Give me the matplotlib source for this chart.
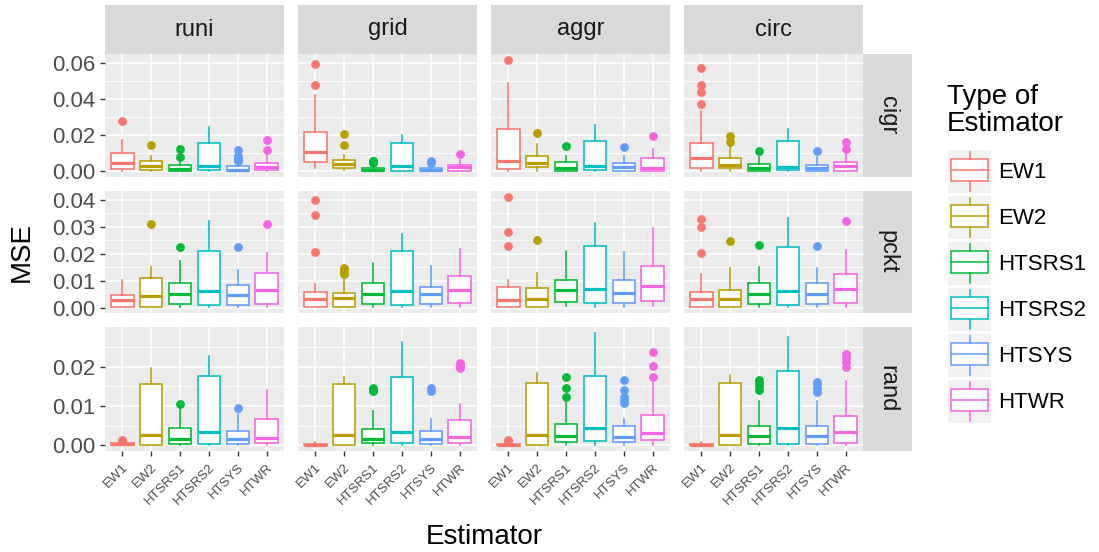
import numpy as np
import matplotlib
matplotlib.use("Agg")
import matplotlib.pyplot as plt
from matplotlib.patches import Rectangle

plt.rcParams['font.family'] = ['Liberation Sans', 'DejaVu Sans']

rows = ["cigr", "pckt", "rand"]
cols = ["runi", "grid", "aggr", "circ"]
estimators = ["EW1", "EW2", "HTSRS1", "HTSRS2", "HTSYS", "HTWR"]
colors = ["#F8766D", "#B79F00", "#00BA38", "#00BFC4", "#619CFF", "#F564E3"]

# box summaries, indexed [row][col][estimator]
whis_lo = [
    [[0.0004, 0.0005, 0.0000, 0.0002, 0.0000, 0.0002],
     [0.0019, 0.0009, 0.0000, 0.0002, 0.0000, 0.0001],
     [0.0004, 0.0005, 0.0001, 0.0002, 0.0001, 0.0001],
     [0.0004, 0.0005, 0.0001, 0.0002, 0.0001, 0.0001]],
    [[0.0001, 0.0003, 0.0004, 0.0004, 0.0004, 0.0004],
     [0.0003, 0.0001, 0.0002, 0.0002, 0.0001, 0.0002],
     [0.0002, 0.0002, 0.0006, 0.0004, 0.0002, 0.0006],
     [0.0002, 0.0002, 0.0004, 0.0004, 0.0004, 0.0004]],
    [[0.0000, 0.0001, 0.0001, 0.0001, 0.0001, 0.0001],
     [0.0000, 0.0001, 0.0001, 0.0001, 0.0000, 0.0001],
     [0.0000, 0.0001, 0.0002, 0.0001, 0.0001, 0.0002],
     [0.0000, 0.0001, 0.0001, 0.0001, 0.0001, 0.0001]],
]
q1 = [
    [[0.0013, 0.0009, 0.0002, 0.0006, 0.0001, 0.0006],
     [0.0052, 0.0017, 0.0000, 0.0004, 0.0000, 0.0002],
     [0.0013, 0.0024, 0.0004, 0.0006, 0.0004, 0.0004],
     [0.0019, 0.0017, 0.0004, 0.0006, 0.0002, 0.0004]],
    [[0.0004, 0.0004, 0.0012, 0.0011, 0.0011, 0.0015],
     [0.0004, 0.0004, 0.0012, 0.0010, 0.0015, 0.0017],
     [0.0004, 0.0004, 0.0020, 0.0016, 0.0018, 0.0025],
     [0.0004, 0.0004, 0.0015, 0.0011, 0.0015, 0.0018]],
    [[0.0001, 0.0002, 0.0004, 0.0004, 0.0004, 0.0005],
     [0.0000, 0.0002, 0.0005, 0.0007, 0.0004, 0.0007],
     [0.0000, 0.0002, 0.0009, 0.0010, 0.0008, 0.0014],
     [0.0000, 0.0002, 0.0003, 0.0003, 0.0003, 0.0006]],
]
med = [
    [[0.0046, 0.0031, 0.0013, 0.0028, 0.0009, 0.0026],
     [0.0106, 0.0040, 0.0008, 0.0028, 0.0007, 0.0022],
     [0.0056, 0.0046, 0.0019, 0.0028, 0.0024, 0.0020],
     [0.0076, 0.0037, 0.0017, 0.0024, 0.0017, 0.0028]],
    [[0.0027, 0.0043, 0.0052, 0.0062, 0.0046, 0.0064],
     [0.0031, 0.0036, 0.0052, 0.0063, 0.0049, 0.0066],
     [0.0030, 0.0033, 0.0064, 0.0070, 0.0055, 0.0079],
     [0.0031, 0.0034, 0.0049, 0.0062, 0.0049, 0.0068]],
    [[0.0003, 0.0027, 0.0015, 0.0033, 0.0015, 0.0020],
     [0.0002, 0.0027, 0.0016, 0.0033, 0.0017, 0.0021],
     [0.0002, 0.0027, 0.0023, 0.0043, 0.0021, 0.0032],
     [0.0002, 0.0027, 0.0025, 0.0043, 0.0025, 0.0034]],
]
q3 = [
    [[0.0102, 0.0056, 0.0033, 0.0159, 0.0028, 0.0044],
     [0.0217, 0.0063, 0.0019, 0.0156, 0.0017, 0.0037],
     [0.0235, 0.0087, 0.0050, 0.0167, 0.0046, 0.0072],
     [0.0156, 0.0072, 0.0041, 0.0169, 0.0037, 0.0054]],
    [[0.0048, 0.0111, 0.0092, 0.0210, 0.0085, 0.0128],
     [0.0058, 0.0055, 0.0091, 0.0210, 0.0076, 0.0118],
     [0.0075, 0.0074, 0.0103, 0.0230, 0.0102, 0.0153],
     [0.0058, 0.0064, 0.0092, 0.0223, 0.0091, 0.0126]],
    [[0.0005, 0.0157, 0.0043, 0.0177, 0.0037, 0.0066],
     [0.0004, 0.0157, 0.0042, 0.0174, 0.0037, 0.0065],
     [0.0004, 0.0160, 0.0054, 0.0177, 0.0049, 0.0077],
     [0.0004, 0.0159, 0.0049, 0.0190, 0.0049, 0.0075]],
]
whis_hi = [
    [[0.0176, 0.0083, 0.0056, 0.0246, 0.0043, 0.0089],
     [0.0420, 0.0091, 0.0028, 0.0200, 0.0030, 0.0065],
     [0.0490, 0.0154, 0.0083, 0.0254, 0.0083, 0.0126],
     [0.0333, 0.0139, 0.0080, 0.0237, 0.0080, 0.0107]],
    [[0.0101, 0.0150, 0.0172, 0.0322, 0.0140, 0.0203],
     [0.0086, 0.0116, 0.0166, 0.0271, 0.0153, 0.0218],
     [0.0103, 0.0129, 0.0209, 0.0313, 0.0207, 0.0293],
     [0.0123, 0.0148, 0.0150, 0.0330, 0.0148, 0.0212]],
    [[0.0009, 0.0196, 0.0094, 0.0227, 0.0081, 0.0140],
     [0.0008, 0.0173, 0.0088, 0.0262, 0.0067, 0.0106],
     [0.0007, 0.0183, 0.0111, 0.0287, 0.0068, 0.0160],
     [0.0008, 0.0178, 0.0113, 0.0277, 0.0112, 0.0164]],
]
outliers = [
    [[[0.0281], [0.0146], [0.0080, 0.0122], [],
      [0.0056, 0.0065, 0.0072, 0.0083, 0.0119], [0.0120, 0.0172]],
     [[0.0476, 0.0596], [0.0148, 0.0204], [0.0046, 0.0050, 0.0055, 0.0060], [],
      [0.0046, 0.0052, 0.0056], [0.0096]],
     [[0.0618], [0.0213], [0.0139], [], [0.0137], [0.0196]],
     [[0.0370, 0.0441, 0.0478, 0.0569], [0.0161, 0.0194], [0.0113], [],
      [0.0111], [0.0122, 0.0165]]],
    [[[], [0.0310], [0.0225], [], [0.0225], [0.0311]],
     [[0.0206, 0.0342, 0.0400], [0.0126, 0.0133, 0.0140, 0.0148], [], [], [], []],
     [[0.0228, 0.0280, 0.0411], [0.0249], [], [], [], []],
     [[0.0203, 0.0298, 0.0327], [0.0245], [0.0233], [], [0.0230], [0.0320]]],
    [[[0.0011, 0.0014], [], [0.0106], [], [0.0094], []],
     [[], [], [0.0138, 0.0142, 0.0146], [], [0.0138, 0.0142, 0.0145],
      [0.0196, 0.0200, 0.0205, 0.0210]],
     [[0.0010, 0.0013], [], [0.0123, 0.0146, 0.0173], [],
      [0.0108, 0.0115, 0.0123, 0.0140, 0.0166], [0.0174, 0.0203, 0.0237]],
     [[], [], [0.0140, 0.0150, 0.0160, 0.0166], [],
      [0.0136, 0.0145, 0.0155, 0.0162], [0.0200, 0.0213, 0.0222, 0.0233]]],
]
y_breaks = [[0.0, 0.02, 0.04, 0.06],
            [0.0, 0.01, 0.02, 0.03, 0.04],
            [0.0, 0.01, 0.02]]

W, H = 1099, 552
fig = plt.figure(figsize=(W / 100, H / 100), dpi=100)


def px(x0, y0, x1, y1):
    return [x0 / W, 1 - y1 / H, (x1 - x0) / W, (y1 - y0) / H]


col_x = [(105, 284), (298, 477), (491, 670), (684, 863)]
row_y = [(54, 177), (191, 313), (327, 451)]
tick_col = "#4D4D4D"

for r in range(len(rows)):
    # shared y range per row, padded 5% like ggplot
    vals = []
    for c in range(len(cols)):
        for e in range(len(estimators)):
            vals += [whis_lo[r][c][e], whis_hi[r][c][e]] + outliers[r][c][e]
    lo, hi = min(vals), max(vals)
    pad = (hi - lo) * 0.05
    ylim = (lo - pad, hi + pad)
    step = y_breaks[r][1] - y_breaks[r][0]
    minor = np.arange(y_breaks[r][0] - step / 2, ylim[1], step)

    for c in range(len(cols)):
        ax = fig.add_axes(px(col_x[c][0], row_y[r][0], col_x[c][1], row_y[r][1]))
        ax.set_facecolor("#EBEBEB")
        for s in ax.spines.values():
            s.set_visible(False)
        ax.set_axisbelow(True)
        for m in minor:
            if ylim[0] < m < ylim[1]:
                ax.axhline(m, color="white", lw=0.55, zorder=0)
        for b in y_breaks[r]:
            ax.axhline(b, color="white", lw=1.1, zorder=0)
        for i in range(len(estimators)):
            ax.axvline(i + 1, color="white", lw=1.1, zorder=0)

        for e, name in enumerate(estimators):
            st = dict(whislo=whis_lo[r][c][e], q1=q1[r][c][e], med=med[r][c][e],
                      q3=q3[r][c][e], whishi=whis_hi[r][c][e],
                      fliers=outliers[r][c][e], label=name)
            col = colors[e]
            ax.bxp([st], positions=[e + 1], widths=0.78, patch_artist=True,
                   showcaps=False,
                   boxprops=dict(facecolor="white", edgecolor=col, lw=1.15),
                   medianprops=dict(color=col, lw=2.3, solid_capstyle="butt"),
                   whiskerprops=dict(color=col, lw=1.15),
                   flierprops=dict(marker="o", markerfacecolor=col,
                                   markeredgecolor=col, markersize=5.3))

        ax.set_xlim(0.4, 6.6)
        ax.set_ylim(*ylim)
        ax.set_yticks(y_breaks[r])
        ax.set_xticks(range(1, len(estimators) + 1))
        ax.tick_params(colors="#333333", length=3.5, width=1.0,
                       labelcolor=tick_col)
        if c == 0:
            ax.set_yticklabels([f"{b:.2f}" for b in y_breaks[r]], fontsize=16)
        else:
            ax.tick_params(axis="y", length=0, labelleft=False)
        if r == len(rows) - 1:
            ax.set_xticklabels(estimators, rotation=45, ha="right", va="top",
                               rotation_mode="anchor", fontsize=9.5)
            ax.tick_params(axis="x", pad=4)
        else:
            ax.tick_params(axis="x", length=0, labelbottom=False)

    # row strip on the right
    sax = fig.add_axes(px(863, row_y[r][0], 912, row_y[r][1]))
    sax.set_facecolor("#D9D9D9")
    sax.set_xticks([])
    sax.set_yticks([])
    for s in sax.spines.values():
        s.set_visible(False)
    sax.text(0.5, 0.5, rows[r], rotation=-90, ha="center", va="center",
             fontsize=17, color="#1A1A1A", transform=sax.transAxes)

for c in range(len(cols)):
    sax = fig.add_axes(px(col_x[c][0], 5, col_x[c][1], 54))
    sax.set_facecolor("#D9D9D9")
    sax.set_xticks([])
    sax.set_yticks([])
    for s in sax.spines.values():
        s.set_visible(False)
    sax.text(0.5, 0.5, cols[c], ha="center", va="center", fontsize=17,
             color="#1A1A1A", transform=sax.transAxes)

fig.text(22 / W, 1 - 252 / H, "MSE", rotation=90, ha="center", va="center",
         fontsize=20)
fig.text(484 / W, 1 - 537 / H, "Estimator", ha="center", va="center",
         fontsize=20)

# legend
fig.text(947 / W, 1 - 84 / H, "Type of\nEstimator", ha="left", va="top",
         fontsize=20, linespacing=1.05)
for e, name in enumerate(estimators):
    top = 150 + e * 46
    kax = fig.add_axes(px(948, top, 991, top + 43))
    kax.set_xlim(0, 1)
    kax.set_ylim(0, 1)
    kax.axis("off")
    kax.add_patch(Rectangle((0, 0), 1, 1, facecolor="#F2F2F2", edgecolor="none"))
    col = colors[e]
    kax.add_patch(Rectangle((0.08, 0.28), 0.84, 0.5, facecolor="white",
                            edgecolor=col, lw=1.1))
    kax.plot([0.08, 0.92], [0.53, 0.53], color=col, lw=1.1)
    kax.plot([0.5, 0.5], [0.78, 0.96], color=col, lw=1.1)
    kax.plot([0.5, 0.5], [0.04, 0.28], color=col, lw=1.1)
    fig.text(998 / W, 1 - (top + 22) / H, name, ha="left", va="center",
             fontsize=16)

fig.savefig("out.png", dpi=100)
